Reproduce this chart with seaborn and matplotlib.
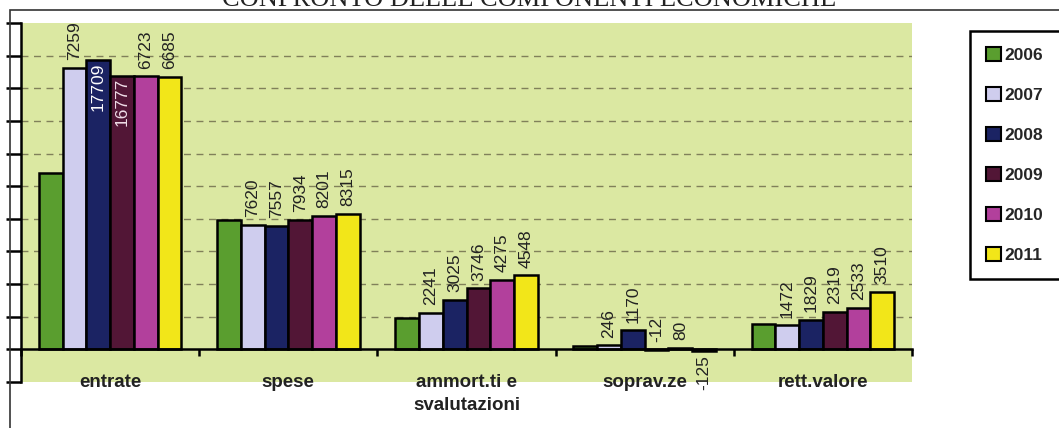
import numpy as np
import pandas as pd
import seaborn as sns
import matplotlib.pyplot as plt
from matplotlib.patches import Rectangle

categorie = ['entrate', 'spese', 'ammort.ti e\nsvalutazioni', 'soprav.ze', 'rett.valore']
anni = ['2006', '2007', '2008', '2009', '2010', '2011']
v2006 = [10790, 7900, 1900, 200, 1530]
v2007 = [17259, 7620, 2241, 246, 1472]
v2008 = [17709, 7557, 3025, 1170, 1829]
v2009 = [16777, 7934, 3746, -12, 2319]
v2010 = [16723, 8201, 4275, 80, 2533]
v2011 = [16685, 8315, 4548, -125, 3510]
colori = ['#5a9e2f', '#cfcdee', '#1b2363', '#521636', '#b2409c', '#f2e619']
# labels drawn inside the bar (category index, year index)
dentro = {(0, 2): 'white', (0, 3): '#f0dde8'}
# labels whose leading digit is cut off in the original
troncati = {(0, 1), (0, 4), (0, 5)}

valori = [v2006, v2007, v2008, v2009, v2010, v2011]
df = pd.DataFrame({
    'categoria': categorie * len(anni),
    'anno': np.repeat(anni, len(categorie)),
    'valore': np.concatenate(valori),
})

sns.set_style('white')
plt.rcParams['font.family'] = ['Liberation Sans', 'DejaVu Sans']

fig = plt.figure(figsize=(10.59, 4.28), dpi=100)
ax = fig.add_axes([21/1059, 46/428, 891/1059, 359/428])
ax.set_facecolor('#dbe8a2')

# dashed grid
ax.hlines(range(2000, 20000, 2000), -0.5, 4.5, colors='#80805a',
          linestyles=(0, (5, 4)), linewidth=1, zorder=0)

sns.barplot(data=df, x='categoria', y='valore', hue='anno', palette=colori,
            saturation=1, edgecolor='black', linewidth=1.8, width=0.8,
            ax=ax, zorder=2, legend=True)

for i, cont in enumerate(ax.containers):
    if i == 0:
        continue
    for j, bar in enumerate(cont):
        v = valori[i][j]
        x = bar.get_x() + bar.get_width() / 2
        testo = str(v)[1:] if (j, i) in troncati else str(v)
        if (j, i) in dentro:
            ax.annotate(testo, (x, v), xytext=(0, -1.5), textcoords='offset points',
                        rotation=90, ha='center', va='top', fontsize=12.5,
                        color=dentro[(j, i)], zorder=3)
        elif v < -100:
            ax.annotate(testo, (x, v), xytext=(0, -3), textcoords='offset points',
                        rotation=90, ha='center', va='top', fontsize=12.5,
                        color='#222222', zorder=3, annotation_clip=False)
        else:
            ax.annotate(testo, (x, max(v, 0)), xytext=(0, 5.5), textcoords='offset points',
                        rotation=90, ha='center', va='bottom', fontsize=12.5,
                        color='#222222', zorder=3)

ax.set_xlim(-0.5, 4.5)
ax.set_ylim(-2000, 20000)
ax.set_yticks(range(-2000, 20001, 2000))
ax.set_yticklabels([])
ax.tick_params(axis='y', direction='out', length=11, width=1.8, color='black', left=True)

for s in ['top', 'right']:
    ax.spines[s].set_visible(False)
ax.spines['left'].set_linewidth(1.8)
ax.spines['left'].set_color('black')
ax.spines['bottom'].set_position(('data', 0))
ax.spines['bottom'].set_linewidth(1.8)
ax.spines['bottom'].set_color('black')
ax.spines['bottom'].set_zorder(4)

ax.set_xticks(np.arange(-0.5, 5, 1))
ax.set_xticklabels([])
ax.set_xticks(range(len(categorie)), minor=True)
ax.set_xticklabels(categorie, minor=True, fontsize=13.5, fontweight='bold', color='#222222')
ax.tick_params(axis='x', which='major', direction='out', length=5, width=1.8, color='black', bottom=True)
ax.tick_params(axis='x', which='minor', length=0, pad=18)
for lab in ax.get_xticklabels(minor=True):
    lab.set_linespacing(1.45)
ax.set_xlabel('')
ax.set_ylabel('')

ax.get_legend().remove()
handles = [Rectangle((0, 0), 1, 1, facecolor=c, edgecolor='black', linewidth=1.5) for c in colori]
leg = fig.legend(handles, anni, loc='upper left', bbox_to_anchor=(970/1059, 1 - 31/428),
                 bbox_transform=fig.transFigure, borderaxespad=0, fancybox=False,
                 framealpha=1, edgecolor='black', handlelength=0.85, handleheight=0.85,
                 handletextpad=0.2, labelspacing=1.38, borderpad=0.95,
                 prop={'weight': 'bold', 'size': 12.5})
leg.get_frame().set_linewidth(1.8)

# outer chart frame
fig.add_artist(Rectangle((10/1059, -0.1), 1.2, 1.1 - 10/428, transform=fig.transFigure,
                         fill=False, edgecolor='#333333', linewidth=1.2))
fig.text(0.5, 1 - 6/428, 'CONFRONTO DELLE COMPONENTI ECONOMICHE', family='Liberation Serif',
         fontsize=19, ha='center', va='baseline', color='#222222')

fig.savefig('out.png', dpi=100)
